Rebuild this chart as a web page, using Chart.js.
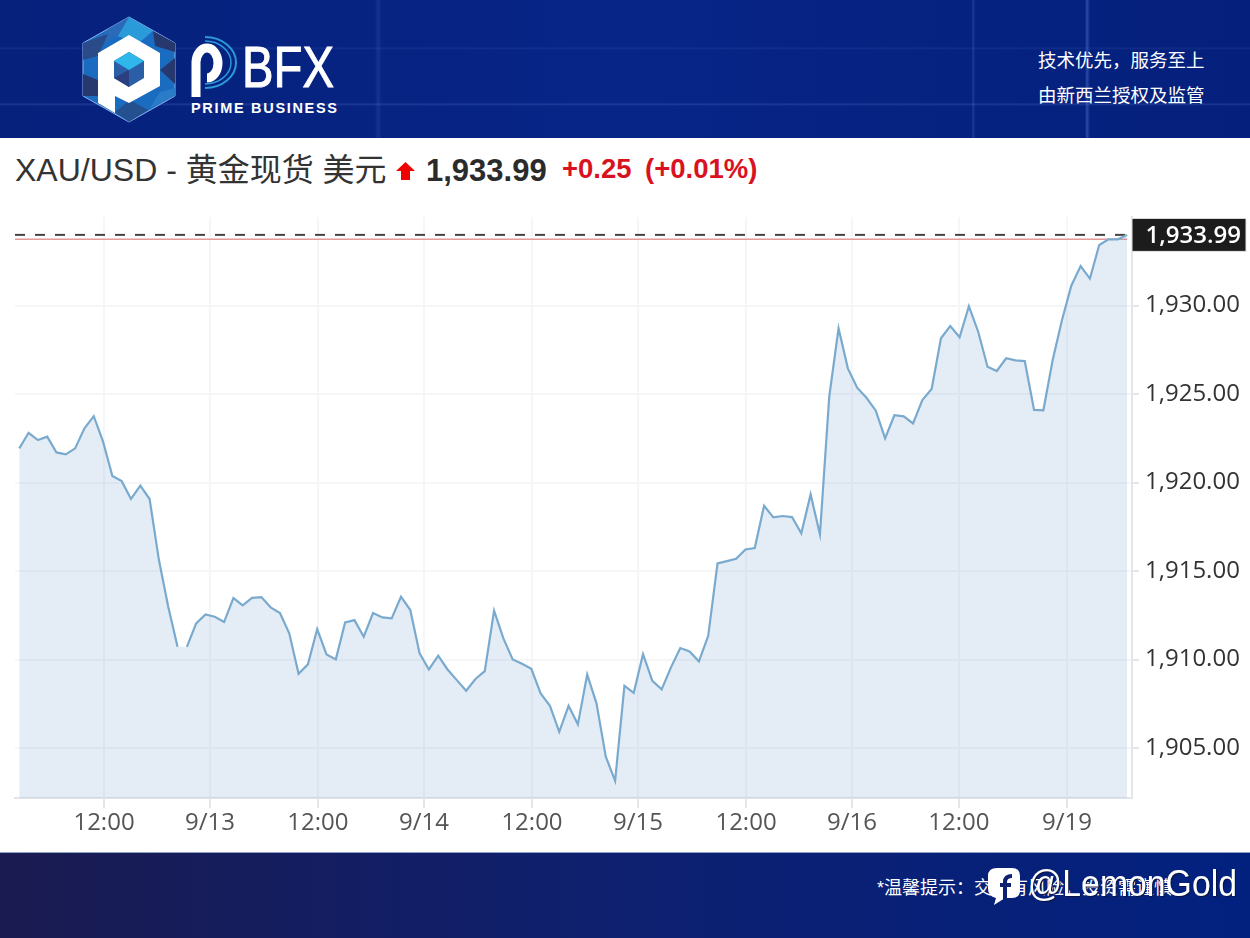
<!DOCTYPE html>
<html lang="zh-CN">

<head>
  <meta charset="UTF-8">
  <title>XAU/USD</title>
  <style>
    html, body {
      margin: 0;
      padding: 0;
      background: #fff;
      width: 1250px;
      height: 938px;
      overflow: hidden;
      font-family: "Liberation Sans", "Noto Sans CJK SC", sans-serif;
    }

    #header, #footer {
      position: absolute;
      left: 0;
      width: 1250px;
    }

    #header {
      top: 0;
      height: 138px;
      background:
        linear-gradient(90deg, transparent 972px, rgba(150,180,255,.2) 973px, transparent 975px),
        linear-gradient(90deg, transparent 1085px, rgba(110,150,255,.35) 1087px, transparent 1090px),
        linear-gradient(90deg, transparent 375px, rgba(120,150,240,.14) 378px, transparent 382px),
        linear-gradient(180deg, transparent 47px, rgba(150,180,255,.09) 48px, transparent 50px),
        linear-gradient(180deg, transparent 103px, rgba(150,180,255,.18) 104px, transparent 106px),
        linear-gradient(90deg, #06217c, #072587 50%, #05207c);
    }

    #footer {
      top: 852px;
      height: 86px;
      background: linear-gradient(90deg, #1a1b50, #0e2070 50%, #02217f);
      border-top: 1px solid #8fa0c8;
      box-sizing: border-box;
    }

    .txt {
      position: absolute;
      white-space: nowrap;
      line-height: 1;
    }

    #chartWrap {
      position: absolute;
      left: 0;
      top: 200px;
      width: 1250px;
      height: 652px;
    }
  </style>
</head>

<body>
  <div id="header"></div>

  <svg style="position:absolute;left:0;top:0" width="420" height="138">
    <polygon points="129,17 175,43 175,96 129,122 83,96 83,43" fill="#1a6cc0" stroke="#8fb4ee" stroke-width="1"/>
    <polygon points="129,17 153,31 140,42 108,34" fill="#2a9ad8"/>
    <polygon points="108,29 129,17 118,36 96,47" fill="#2a6ab8"/>
    <polygon points="153,31 175,43 175,52 155,46" fill="#27386f"/>
    <polygon points="83,43 108,34 98,56 83,60" fill="#2a4a8a"/>
    <polygon points="83,74 98,80 98,96 83,96" fill="#27386f"/>
    <polygon points="175,58 175,84 160,70" fill="#27386f"/>
    <polygon points="115,112 129,122 148,110 130,100" fill="#24508f"/>
    <polygon points="150,108 175,96 175,88 160,92" fill="#2a7cc8"/>
    <path d="M129 35 L160 53 L160 86 L129 103 L115 96 L115 113 L98 103 L98 53 Z" fill="#fff"/>
    <polygon points="129,52 144,61 144,78 129,87 114,78 114,61" fill="#2a5fa8"/>
    <polygon points="129,52 144,61 129,70 114,61" fill="#2fb6ea"/>
    <polygon points="114,78 129,70 129,87" fill="#2b3f80"/>
    <path d="M196 97 V62 A11 15 0 1 1 207 78" fill="none" stroke="#fff" stroke-width="9"/>
    <path d="M205 37 A31 25.5 0 0 1 205 88" fill="none" stroke="#2a9ad8" stroke-width="2"/>
    <path d="M205 41 A26 21.5 0 0 1 205 84" fill="none" stroke="#2a9ad8" stroke-width="1.5"/>
    <text x="242" y="87" font-family="Liberation Sans" font-size="58" fill="#fff" stroke="#fff" stroke-width="1" textLength="92" lengthAdjust="spacingAndGlyphs">BFX</text>
    <text x="191" y="113" font-family="Liberation Sans" font-weight="bold" font-size="14.5" fill="#fff" textLength="146">PRIME BUSINESS</text>
  </svg>

  <div class="txt" style="left:1038px;top:52px;font-size:18.5px;color:#fff">技术优先&#xFF0C;服务至上</div>
  <div class="txt" style="left:1038px;top:87px;font-size:18.5px;color:#fff">由新西兰授权及监管</div>

  <div class="txt" style="left:15px;top:154px;font-size:32px;color:#333">XAU/USD - 黄金现货 美元</div>
  <svg style="position:absolute;left:396px;top:162px" width="19" height="18">
    <polygon points="9.5,0 19,9 14,9 14,18 5,18 5,9 0,9" fill="#f00000"/>
  </svg>
  <div class="txt" style="left:426px;top:155px;font-size:31px;font-weight:bold;color:#2b2b2b">1,933.99</div>
  <div class="txt" style="left:562px;top:155px;font-size:27.5px;font-weight:bold;color:#d9121f">+0.25</div>
  <div class="txt" style="left:645px;top:155px;font-size:27.5px;font-weight:bold;color:#d9121f">(+0.01%)</div>

  <div id="chartWrap"><canvas id="priceChart" width="1250" height="652"></canvas></div>

  <div id="footer"></div>
  <div class="txt" style="left:877px;top:879px;font-size:18px;color:#fff">*温馨提示&#xFF1A;交易有风险&#xFF0C;投资需谨慎</div>
  <svg style="position:absolute;left:985px;top:862px" width="260" height="50">
    <path d="M12 6 H27 Q35 6 35 14 V28 Q35 36 27 36 H20 L9 43 L11 36 Q3 34 3 27 V14 Q3 6 12 6 Z" fill="#fff"/>
    <path d="M20 37 V20 Q20 14 27 14 M15 23 H26" fill="none" stroke="#0f2272" stroke-width="4"/>
    <text x="43" y="34" font-family="Liberation Sans" font-size="37" fill="#fff" style="filter:drop-shadow(1px 1px 0 #0a1440)" textLength="209" lengthAdjust="spacingAndGlyphs">@LemonGold</text>
  </svg>

  <script src="https://cdn.jsdelivr.net/npm/chart.js"></script>
  <script>
    const prices = [
      1921.93, 1922.81, 1922.40, 1922.59, 1921.70, 1921.59, 1921.93, 1923.06, 1923.75, 1922.31,
      1920.37, 1920.08, 1919.07, 1919.82, 1919.07, 1915.62, 1912.98, 1910.72, 1910.72, 1912.04,
      1912.55, 1912.42, 1912.12, 1913.47, 1913.06, 1913.49, 1913.53, 1912.95, 1912.63, 1911.48,
      1909.20, 1909.73, 1911.72, 1910.29, 1910.01, 1912.10, 1912.23, 1911.29, 1912.63, 1912.38,
      1912.33, 1913.55, 1912.80, 1910.35, 1909.44, 1910.22, 1909.44, 1908.84, 1908.24, 1908.90,
      1909.35, 1912.76, 1911.20, 1910.01, 1909.76, 1909.48, 1908.09, 1907.39, 1905.92, 1907.39,
      1906.34, 1909.16, 1907.53, 1904.51, 1903.15, 1908.52, 1908.12, 1910.31, 1908.80, 1908.32,
      1909.56, 1910.65, 1910.46, 1909.90, 1911.34, 1915.43, 1915.56, 1915.69, 1916.22, 1916.30,
      1918.69, 1918.03, 1918.11, 1918.05, 1917.13, 1919.33, 1917.07, 1924.85, 1928.71, 1926.45,
      1925.36, 1924.79, 1924.06, 1922.50, 1923.80, 1923.74, 1923.34, 1924.66, 1925.28, 1928.15,
      1928.84, 1928.21, 1929.96, 1928.52, 1926.54, 1926.30, 1927.02, 1926.90, 1926.86, 1924.10,
      1924.08, 1926.92, 1929.18, 1931.12, 1932.23, 1931.52, 1933.42, 1933.74, 1933.74, 1933.99
    ];
    const lastPrice = 1933.99;
    const prevClose = 1933.74;

    const xTickPositions = [9.10, 20.48, 32.08, 43.47, 55.07, 66.46, 78.06, 89.44, 100.93, 112.54];
    const xTickLabels = ['12:00', '9/13', '12:00', '9/14', '12:00', '9/15', '12:00', '9/16', '12:00', '9/19'];
    const yTickValues = [1905, 1910, 1915, 1920, 1925, 1930];

    const xMin = -0.46, xMax = 119.52;
    const yMin = 1902.18, yMax = 1935;

    // the line is missing over this stretch in the original image
    const hiddenSegment = 17;

    const labelFont = '24px "Open Sans", sans-serif';
    const gridColor = '#f5f6f8';
    const axisColor = '#e2e5ea';

    // black box with the last price on the right axis
    const lastPriceBox = {
      id: 'lastPriceBox',
      afterDraw(chart) {
        const ctx = chart.ctx;
        const y = chart.scales.y.getPixelForValue(lastPrice);
        ctx.save();
        ctx.fillStyle = '#1c1c1c';
        ctx.strokeStyle = '#e6e6e6';
        ctx.fillRect(1132, y - 16.5, 114, 33);
        ctx.strokeRect(1132, y - 16.5, 114, 33);
        ctx.fillStyle = '#fff';
        ctx.font = '600 ' + labelFont;
        ctx.textBaseline = 'middle';
        ctx.textAlign = 'right';
        ctx.fillText(lastPrice.toLocaleString('en-US', { minimumFractionDigits: 2 }), 1241, y + 1);
        ctx.restore();
      }
    };

    const points = prices.map((p, i) => ({ x: i, y: p }));

    new Chart(document.getElementById('priceChart').getContext('2d'), {
      type: 'line',
      plugins: [lastPriceBox],
      data: {
        datasets: [
          // area only, the line goes in its own dataset so the gap does not split the fill
          {
            data: points,
            borderWidth: 0,
            borderColor: 'transparent',
            backgroundColor: 'rgba(120,165,205,0.2)',
            fill: 'start',
            pointRadius: 0,
            tension: 0
          },
          {
            data: points,
            borderColor: '#7aabcf',
            borderWidth: 2.2,
            fill: false,
            pointRadius: 0,
            tension: 0,
            segment: {
              borderColor: c => c.p0DataIndex === hiddenSegment ? 'transparent' : undefined
            }
          },
          {
            data: [{ x: xMin, y: prevClose }, { x: 119, y: prevClose }],
            borderColor: '#e29a9a',
            borderWidth: 1.5,
            pointRadius: 0
          },
          {
            data: [{ x: xMin, y: lastPrice }, { x: 119, y: lastPrice }],
            borderColor: '#444',
            borderWidth: 2,
            borderDash: [10, 10],
            pointRadius: 0
          }
        ]
      },
      options: {
        responsive: false,
        animation: false,
        events: [],
        layout: { padding: { left: 15, top: 17, right: 0, bottom: 0 } },
        plugins: { legend: { display: false }, tooltip: { enabled: false } },
        scales: {
          x: {
            type: 'linear',
            min: xMin,
            max: xMax,
            afterBuildTicks: scale => { scale.ticks = xTickPositions.map(v => ({ value: v })); },
            afterFit: scale => { scale.height = 54; },
            grid: { color: gridColor, lineWidth: 2, tickColor: axisColor, tickLength: 10 },
            border: { color: axisColor, width: 2 },
            ticks: {
              autoSkip: false,
              maxRotation: 0,
              minRotation: 0,
              padding: 1,
              color: '#555',
              font: { family: '"Open Sans", sans-serif', size: 24 },
              callback: (v, i) => xTickLabels[i]
            }
          },
          y: {
            position: 'right',
            min: yMin,
            max: yMax,
            afterBuildTicks: scale => { scale.ticks = yTickValues.map(v => ({ value: v })); },
            afterFit: scale => {
              scale.width = 118;
              scale.paddingTop = 0;
              scale.paddingBottom = 0;
            },
            grid: { color: gridColor, lineWidth: 2, tickColor: axisColor, tickLength: 7 },
            border: { color: axisColor, width: 2 },
            ticks: {
              padding: 6,
              color: '#333',
              font: { family: '"Open Sans", sans-serif', size: 24 },
              callback: v => v.toLocaleString('en-US', { minimumFractionDigits: 2 })
            }
          }
        }
      }
    });
  </script>
</body>

</html>
